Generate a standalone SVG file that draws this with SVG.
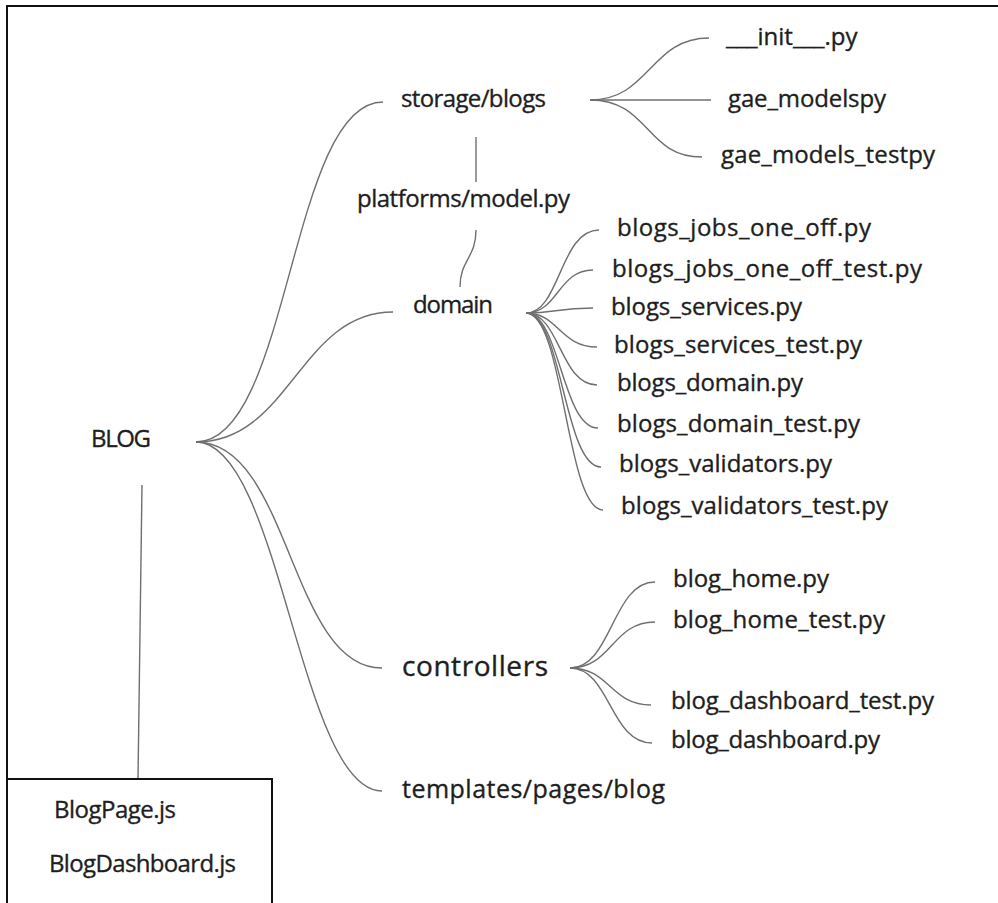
<svg xmlns="http://www.w3.org/2000/svg" width="998" height="903" viewBox="0 0 998 903">
  <style>
    .lbl { font-family: "Open Sans", "Noto Sans", "Liberation Sans", sans-serif; font-size: 24px; fill: #1e1e1e; stroke: #1e1e1e; stroke-width: 0.35; }
    .big { font-size: 28px; }
    .mid { font-size: 25px; }
    .link { fill: none; stroke: #707070; stroke-width: 1.4; }
    .frame { fill: none; stroke: #111; stroke-width: 2; }
  </style>

  <rect width="998" height="903" fill="#fff"/>
  <path class="frame" d="M7,910 L7,6 L1000,6"/>

  <g id="connectors">
    <!-- BLOG fan -->
    <path class="link" d="M196,442 C290,442 290,102 383,102"/>
    <path class="link" d="M196,442 C290,442 300,312 393,312"/>
    <path class="link" d="M196,442 C290,442 290,668 382,668"/>
    <path class="link" d="M196,442 C280,442 300,791 382,791"/>
    <path class="link" d="M142,485 L138,779"/>
    <!-- storage/blogs chain -->
    <path class="link" d="M476,137 L476,182"/>
    <path class="link" d="M476,230 C476,258 460,260 460,287"/>
    <!-- storage/blogs fan -->
    <path class="link" d="M590,100 C650,100 650,38 709,38"/>
    <path class="link" d="M590,100 L711,100"/>
    <path class="link" d="M590,100 C650,100 645,157 702,157"/>
    <!-- domain fan -->
    <path class="link" d="M526,313 C560,313 560,230 599,230"/>
    <path class="link" d="M526,313 C558,313 558,270 593,270"/>
    <path class="link" d="M526,313 C556,313 556,308 593,308"/>
    <path class="link" d="M526,313 C558,313 560,347 597,347"/>
    <path class="link" d="M526,313 C560,313 560,385 597,385"/>
    <path class="link" d="M526,313 C560,313 562,428 598,428"/>
    <path class="link" d="M526,313 C562,313 564,467 601,467"/>
    <path class="link" d="M526,313 C564,313 566,510 603,510"/>
    <!-- controllers fan -->
    <path class="link" d="M570,668 C612,668 612,582 655,582"/>
    <path class="link" d="M570,668 C612,668 612,622 655,622"/>
    <path class="link" d="M570,668 C610,668 610,705 651,705"/>
    <path class="link" d="M570,668 C610,668 610,743 652,743"/>
  </g>

  <g id="blog"><text class="lbl" x="91" y="447" font-size="21" textLength="60" lengthAdjust="spacing">BLOG</text></g>
  <g id="storage-blogs"><text class="lbl" x="401" y="107" textLength="145" lengthAdjust="spacing">storage/blogs</text></g>
  <g id="platforms-model"><text class="lbl" x="357" y="207" textLength="213" lengthAdjust="spacing">platforms/model.py</text></g>
  <g id="domain"><text class="lbl" x="413" y="313" textLength="80" lengthAdjust="spacing">domain</text></g>
  <g id="controllers"><text class="lbl big" x="402" y="676" textLength="146" lengthAdjust="spacing">controllers</text></g>
  <g id="templates"><text class="lbl mid" x="402" y="798" textLength="263" lengthAdjust="spacing">templates/pages/blog</text></g>

  <g id="init"><text class="lbl" x="726" y="45">___init___.py</text></g>
  <g id="gae-models"><text class="lbl" x="728" y="107" textLength="158" lengthAdjust="spacing">gae_modelspy</text></g>
  <g id="gae-models-test"><text class="lbl" x="721" y="163" textLength="214" lengthAdjust="spacing">gae_models_testpy</text></g>

  <g id="jobs-one-off"><text class="lbl" x="617" y="236" textLength="254" lengthAdjust="spacing">blogs_jobs_one_off.py</text></g>
  <g id="jobs-one-off-test"><text class="lbl" x="612" y="277" textLength="310" lengthAdjust="spacing">blogs_jobs_one_off_test.py</text></g>
  <g id="services"><text class="lbl" x="611" y="315" textLength="191" lengthAdjust="spacing">blogs_services.py</text></g>
  <g id="services-test"><text class="lbl" x="614" y="353" textLength="248" lengthAdjust="spacing">blogs_services_test.py</text></g>
  <g id="blogs-domain"><text class="lbl" x="617" y="391" textLength="186" lengthAdjust="spacing">blogs_domain.py</text></g>
  <g id="blogs-domain-test"><text class="lbl" x="617" y="432" textLength="243" lengthAdjust="spacing">blogs_domain_test.py</text></g>
  <g id="validators"><text class="lbl" x="619" y="472" textLength="213" lengthAdjust="spacing">blogs_validators.py</text></g>
  <g id="validators-test"><text class="lbl" x="621" y="514" textLength="267" lengthAdjust="spacing">blogs_validators_test.py</text></g>

  <g id="blog-home"><text class="lbl" x="673" y="587" textLength="156" lengthAdjust="spacing">blog_home.py</text></g>
  <g id="blog-home-test"><text class="lbl" x="673" y="628" textLength="212" lengthAdjust="spacing">blog_home_test.py</text></g>
  <g id="blog-dashboard-test"><text class="lbl" x="671" y="709" textLength="263" lengthAdjust="spacing">blog_dashboard_test.py</text></g>
  <g id="blog-dashboard"><text class="lbl" x="671" y="748" textLength="209" lengthAdjust="spacing">blog_dashboard.py</text></g>

  <g id="frontend">
    <rect class="frame" x="7" y="779" width="265" height="140"/>
    <text class="lbl" x="54" y="818" font-size="23" textLength="122" lengthAdjust="spacing">BlogPage.js</text>
    <text class="lbl" x="49" y="872" font-size="23" textLength="187" lengthAdjust="spacing">BlogDashboard.js</text>
  </g>
</svg>
